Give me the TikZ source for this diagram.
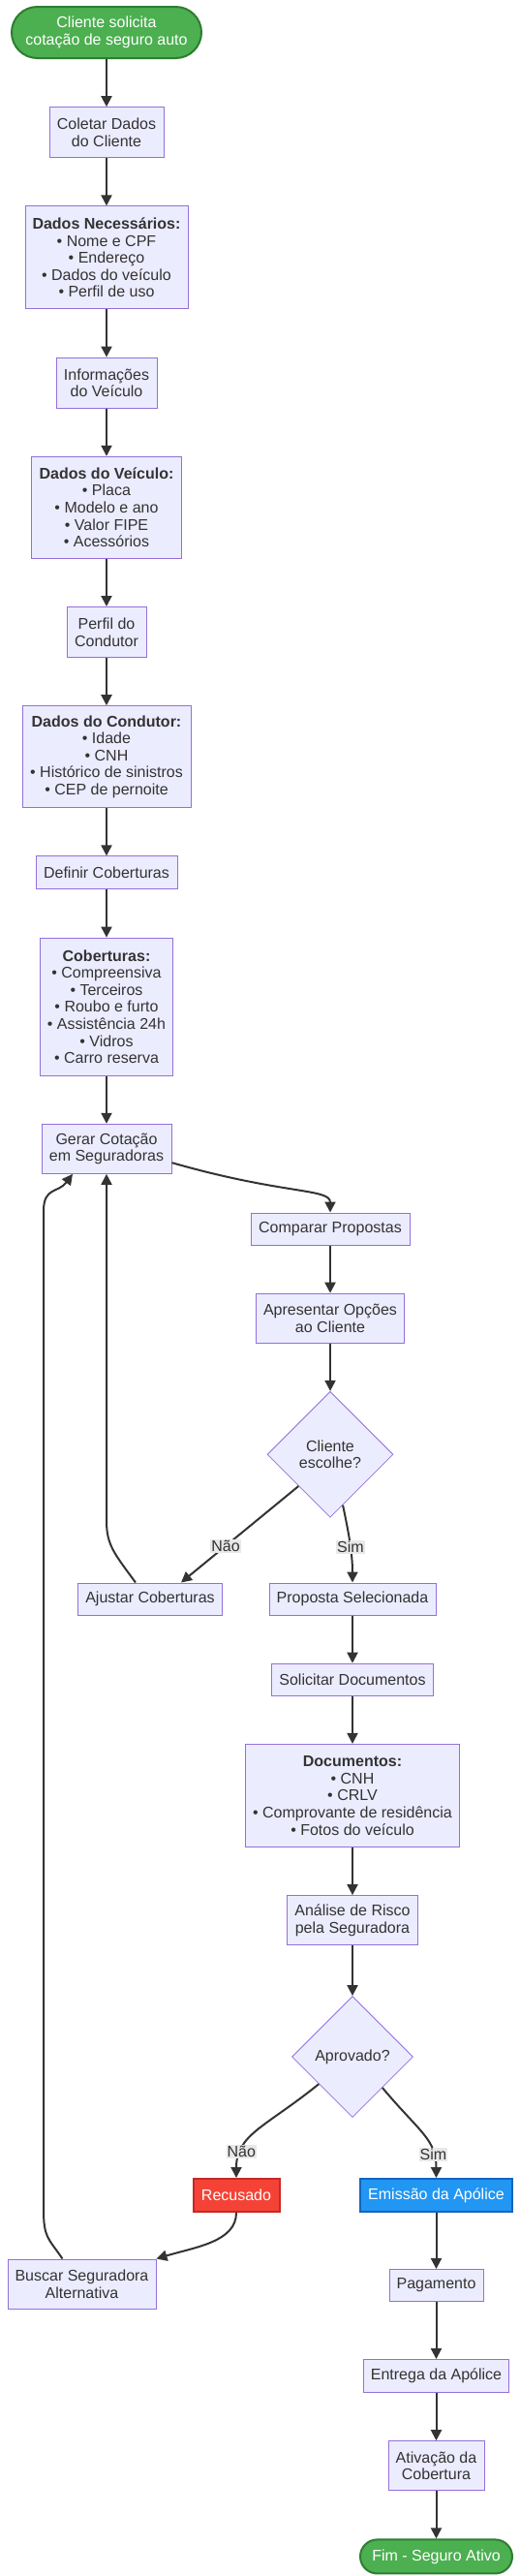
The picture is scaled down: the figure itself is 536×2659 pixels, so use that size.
\documentclass[tikz,border=0pt]{standalone}
\usepackage{fontspec}
\setmainfont{Liberation Sans}
\usepackage{xcolor}
\usetikzlibrary{positioning, arrows.meta, shapes.geometric, calc}

\definecolor{nodefill}{HTML}{ECECFF}
\definecolor{nodeline}{HTML}{9370DB}
\definecolor{textgray}{HTML}{333333}
\definecolor{edgegray}{HTML}{333333}
\definecolor{labelbg}{HTML}{E8E8E8}
\definecolor{okfill}{HTML}{4CAF50}
\definecolor{okline}{HTML}{2E7D32}
\definecolor{nofill}{HTML}{F44336}
\definecolor{noline}{HTML}{C62828}
\definecolor{bluefill}{HTML}{2196F3}
\definecolor{blueline}{HTML}{1565C0}

\tikzset{
    wh/.style 2 args={minimum width=#1pt, minimum height=#2pt}, % box size in px
}
\tikzstyle{startstop} = [rectangle, draw=okline, fill=okfill, line width=2pt, text=white, align=center, inner sep=0pt]
\tikzstyle{process} = [rectangle, draw=nodeline, fill=nodefill, line width=1pt, text=textgray, align=center, inner sep=0pt]
\tikzstyle{decision} = [diamond, aspect=1, draw=nodeline, fill=nodefill, line width=0.8pt, text=textgray, align=center, inner sep=0pt]
\tikzstyle{refused} = [rectangle, draw=noline, fill=nofill, line width=2pt, text=white, align=center, inner sep=0pt]
\tikzstyle{issued} = [rectangle, draw=blueline, fill=bluefill, line width=2pt, text=white, align=center, inner sep=0pt]
\tikzstyle{lbl} = [fill=labelbg, text=textgray, inner sep=1pt]
\tikzstyle{arrow} = [line width=2pt, draw=edgegray, -{Triangle[length=11pt, width=11pt]}]

\begin{document}
\begin{tikzpicture}[x=1pt, y=1pt, node distance=49.2pt, every node/.append style={font=\fontsize{16}{17.6}\selectfont}]

        \useasboundingbox (0,0) rectangle (536,-2659);

        % Nodes
        \node (inicio) [startstop, rounded corners=26.5pt, wh={196}{53}] at (110,-33.5) {Cliente solicita\\cotação de seguro auto};
        \node (coletar) [process, wh={118}{52}, below=of inicio] {Coletar Dados\\do Cliente};
        \node (dadoscli) [process, wh={168}{106}, below=of coletar] {\textbf{Dados Necessários:}\\• Nome e CPF\\• Endereço\\• Dados do veículo\\• Perfil de uso};
        \node (infoveic) [process, wh={104}{52}, below=of dadoscli] {Informações\\do Veículo};
        \node (dadosveic) [process, wh={155}{105}, below=of infoveic] {\textbf{Dados do Veículo:}\\• Placa\\• Modelo e ano\\• Valor FIPE\\• Acessórios};
        \node (perfil) [process, wh={82}{52}, below=of dadosveic] {Perfil do\\Condutor};
        \node (dadoscond) [process, wh={174}{105}, below=of perfil] {\textbf{Dados do Condutor:}\\• Idade\\• CNH\\• Histórico de sinistros\\• CEP de pernoite};
        \node (definir) [process, wh={146}{34}, below=of dadoscond] {Definir Coberturas};
        \node (cobert) [process, wh={137}{142}, below=of definir] {\textbf{Coberturas:}\\• Compreensiva\\• Terceiros\\• Roubo e furto\\• Assistência 24h\\• Vidros\\• Carro reserva};
        \node (gerar) [process, wh={134}{51}, below=of cobert] {Gerar Cotação\\em Seguradoras};

        \node (comparar) [process, wh={164}{33}] at (341,-1268.5) {Comparar Propostas};
        \node (apresentar) [process, wh={153}{51}, below=of comparar] {Apresentar Opções\\ao Cliente};
        \node (escolhe) [decision, wh={130}{130}, below=of apresentar] {Cliente\\escolhe?};
        \node (ajustar) [process, wh={149}{33}] at (155,-1650.5) {Ajustar Coberturas};
        \node (proposta) [process, wh={172}{33}] at (364,-1650.5) {Proposta Selecionada};
        \node (solicitar) [process, wh={167}{33}, below=of proposta] {Solicitar Documentos};
        \node (docs) [process, wh={221}{106}, below=of solicitar] {\textbf{Documentos:}\\• CNH\\• CRLV\\• Comprovante de residência\\• Fotos do veículo};
        \node (analise) [process, wh={135}{51}, below=of docs] {Análise de Risco\\pela Seguradora};
        \node (aprovado) [decision, wh={125}{125}, below=52pt of analise] {Aprovado?};
        \node (recusado) [refused, wh={89}{34}] at (244,-2266) {Recusado};
        \node (emissao) [issued, wh={157}{34}] at (450.5,-2266) {Emissão da Apólice};
        \node (buscar) [process, wh={153}{51}] at (84.5,-2357.5) {Buscar Seguradora\\Alternativa};
        \node (pagamento) [process, wh={97}{33}, below=58pt of emissao] {Pagamento};
        \node (entrega) [process, wh={150}{34}, below=59pt of pagamento] {Entrega da Apólice};
        \node (ativacao) [process, wh={99}{51}, below=of entrega] {Ativação da\\Cobertura};
        \node (fim) [startstop, rounded corners=17.5pt, wh={157}{35}, below=of ativacao] {Fim - Seguro Ativo};

        % Arrows
        \draw [arrow] (inicio) -- (coletar);
        \draw [arrow] (coletar) -- (dadoscli);
        \draw [arrow] (dadoscli) -- (infoveic);
        \draw [arrow] (infoveic) -- (dadosveic);
        \draw [arrow] (dadosveic) -- (perfil);
        \draw [arrow] (perfil) -- (dadoscond);
        \draw [arrow] (dadoscond) -- (definir);
        \draw [arrow] (definir) -- (cobert);
        \draw [arrow] (cobert) -- (gerar);
        \draw [arrow] (gerar.-12) .. controls +(-16:120) and +(0,25) .. (comparar.north);
        \draw [arrow] (comparar) -- (apresentar);
        \draw [arrow] (apresentar) -- (escolhe);
        \draw [arrow] (escolhe.south west) -- node[lbl, pos=0.62] {Não} ($(ajustar.north)+(32,0)$);
        \draw [arrow] (escolhe.-76) .. controls +(-78:30) and +(0,30) .. node[lbl, pos=0.55] {Sim} (proposta.north);
        \draw [arrow] ($(ajustar.north)+(-15,0)$) .. controls +(-22,30) and +(0,-25) .. ($(gerar.south)+(0,-358)$) -- (gerar.south);
        \draw [arrow] (proposta) -- (solicitar);
        \draw [arrow] (solicitar) -- (docs);
        \draw [arrow] (docs) -- (analise);
        \draw [arrow] (analise) -- (aprovado);
        \draw [arrow] (aprovado.-141) .. controls +(-141:70) and +(0,45) .. node[lbl, pos=0.76] {Não} (recusado.north);
        \draw [arrow] (aprovado.-46) .. controls +(-50:60) and +(0,40) .. node[lbl, pos=0.76] {Sim} (emissao.north);
        \draw [arrow] (recusado.south) .. controls +(0,-30) and +(40,12) .. (buscar.north east);
        \draw [arrow] ($(buscar.north)+(-20,0)$) .. controls +(-15,22) and +(0,-30) .. (45,-2280) -- (45,-1250) .. controls +(0,25) and +(-15,-20) .. ($(gerar.south)+(-35,0)$);
        \draw [arrow] (emissao) -- (pagamento);
        \draw [arrow] (pagamento) -- (entrega);
        \draw [arrow] (entrega) -- (ativacao);
        \draw [arrow] (ativacao) -- (fim);

\end{tikzpicture}
\end{document}
